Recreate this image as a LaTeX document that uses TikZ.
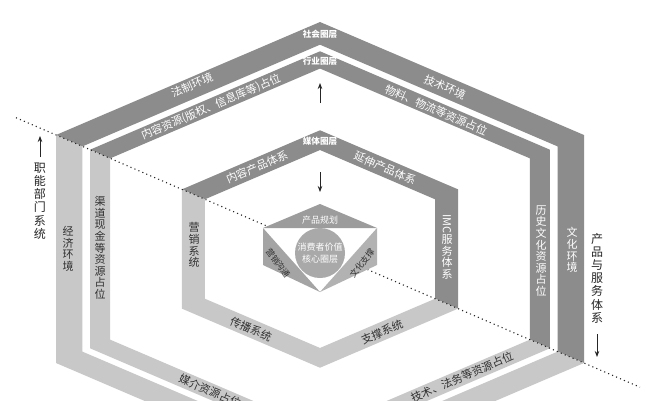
\documentclass[tikz,border=0pt]{standalone}
\usepackage{fontspec}
\usepackage{graphicx}
\setmainfont{Noto Sans CJK SC}
\usetikzlibrary{arrows.meta}
\definecolor{bandD}{HTML}{8C8C8C}
\definecolor{bandL}{HTML}{C8C8C8}
\definecolor{coreT}{HTML}{9C9C9C}
\definecolor{coreL}{HTML}{A4A4A4}
\definecolor{coreR}{HTML}{B2B2B2}
\definecolor{coreC}{HTML}{A9A9A9}
\definecolor{txtD}{HTML}{303030}
\newcommand{\myband}[2]{%
  \fill[bandD] ({320-264*#2},{249-114*#2}) -- (320,{249-227*#2}) -- ({320+264*#2},{249-114*#2}) -- ({320+264*#2},{249+114*#2})
     -- ({320+264*#1},{249+114*#1}) -- ({320+264*#1},{249-114*#1}) -- (320,{249-227*#1}) -- ({320-264*#1},{249-114*#1}) -- cycle;
  \fill[bandL] ({320-264*#2},{249-114*#2}) -- ({320-264*#2},{249+114*#2}) -- (320,{249+227*#2}) -- ({320+264*#2},{249+114*#2})
     -- ({320+264*#1},{249+114*#1}) -- (320,{249+227*#1}) -- ({320-264*#1},{249+114*#1}) -- ({320-264*#1},{249-114*#1}) -- cycle;}
\begin{document}
\begin{tikzpicture}[x=1pt,y=-1pt,
  wlab/.style={text=white,font=\fontsize{11}{11.6}\selectfont,inner sep=0pt,align=center},
  dlab/.style={text=txtD,font=\fontsize{11}{11.6}\selectfont,inner sep=0pt,align=center},
  ttl/.style={text=white,font=\fontsize{8.6}{10}\selectfont\bfseries,inner sep=0pt},
  side/.style={text=black!85,font=\fontsize{12}{13.2}\selectfont,inner sep=0pt,align=center},
  corelab/.style={font=\fontsize{9}{12.5}\selectfont,inner sep=0pt,align=center},
  arr/.style={draw=black!85,line width=0.8pt,-{Stealth[length=6pt,width=4.5pt]}},
  dotline/.style={draw=black!85,line width=1.1pt,dash pattern=on 1.1pt off 3.2pt}]
\useasboundingbox (0,0) rectangle (656,400);
\clip (0,0) rectangle (656,400);
\fill[white] (0,0) rectangle (656,400);
% rings
\myband{0.9}{1}
\myband{0.795}{0.871}
\myband{0.436}{0.523}
% dotted diagonal
\coordinate (d1) at (16,117.7);
\coordinate (d2) at (640,387.2);
\draw[dotline] (d1) -- (d2);
% core
\coordinate (cT) at (320,204);
\coordinate (cUL) at (263,228);
\coordinate (cUR) at (377,228);
\coordinate (cLb) at (263,265);
\coordinate (cRb) at (377,265);
\coordinate (cB) at (320,292);
\fill[white] (cT) -- (cUR) -- (cRb) -- (cB) -- (cLb) -- (cUL) -- cycle;
\fill[coreT] (cT) -- (cUL) -- (cUR) -- cycle;
\fill[coreL] (cUL) -- (cLb) -- (cB) -- cycle;
\fill[coreR] (cUR) -- (cRb) -- (cB) -- cycle;
\node[circle,fill=coreC,minimum size=50pt,inner sep=0pt,corelab,text=white] (core) at (320,253) {消费者价值\\核心圈层};
\node[corelab,text=white] (plan) at (320,220) {产品规划};
\node[corelab,text=txtD,rotate=-54,font=\fontsize{8.5}{10}\selectfont] (mkt) at (278,263) {营销沟通};
\node[corelab,text=txtD,rotate=52,font=\fontsize{8.5}{10}\selectfont] (cul) at (362,263) {文化支撑};
% ring titles
\node[ttl] (t1) at (320,34) {社会圈层};
\node[ttl] (t2) at (320,61) {行业圈层};
\node[ttl] (t3) at (320,141) {媒体圈层};
% outer band labels
\node[wlab,rotate=23.2] (l1) at (192,85) {法制环境};
\node[wlab,rotate=-23.2] (l2) at (445,87) {技术环境};
\node[dlab] (l3) at (68,249) {经\\济\\环\\境};
\node[wlab] (l4) at (572,250) {文\\化\\环\\境};
% inner band labels
\node[wlab,rotate=23.2] (m1) at (211,107) {内容资源(版权、信息库等)占位};
\node[wlab,rotate=-23.2] (m2) at (436,110) {物料、物流等资源占位};
\node[dlab] (m3) at (100,248) {渠\\道\\现\\金\\等\\资\\源\\占\\位};
\node[wlab] (m4) at (541,251) {历\\史\\文\\化\\资\\源\\占\\位};
\node[dlab,rotate=-23.2] (m5) at (210,391) {媒介资源占位};
\node[dlab,rotate=23.2] (m6) at (462,377) {技术、法务等资源占位};
% middle ring labels
\node[wlab,rotate=23.2] (n1) at (257,167) {内容产品体系};
\node[wlab,rotate=-23.2] (n2) at (385,168) {延伸产品体系};
\node[dlab] (n3) at (194,245) {营\\销\\系\\统};
\node[wlab] (n4) at (447,247) {\rotatebox{-90}{IMC}\\服\\务\\体\\系};
\node[dlab,rotate=-23.2] (n5) at (251,329) {传播系统};
\node[dlab,rotate=23.2] (n6) at (382,332) {支撑系统};
% side captions
\node[side] (s1) at (40,201) {职\\能\\部\\门\\系\\统};
\node[side] (s2) at (597,278) {产\\品\\与\\服\\务\\体\\系};
% arrows
\coordinate (a1s) at (40,157); \coordinate (a1e) at (40,136);
\coordinate (a2s) at (597,334); \coordinate (a2e) at (597,357);
\coordinate (a3s) at (320,103); \coordinate (a3e) at (320,83);
\coordinate (a4s) at (320,172); \coordinate (a4e) at (320,192);
\draw[arr] (a1s) -- (a1e);
\draw[arr] (a2s) -- (a2e);
\draw[arr] (a3s) -- (a3e);
\draw[arr] (a4s) -- (a4e);
\end{tikzpicture}
\end{document}
